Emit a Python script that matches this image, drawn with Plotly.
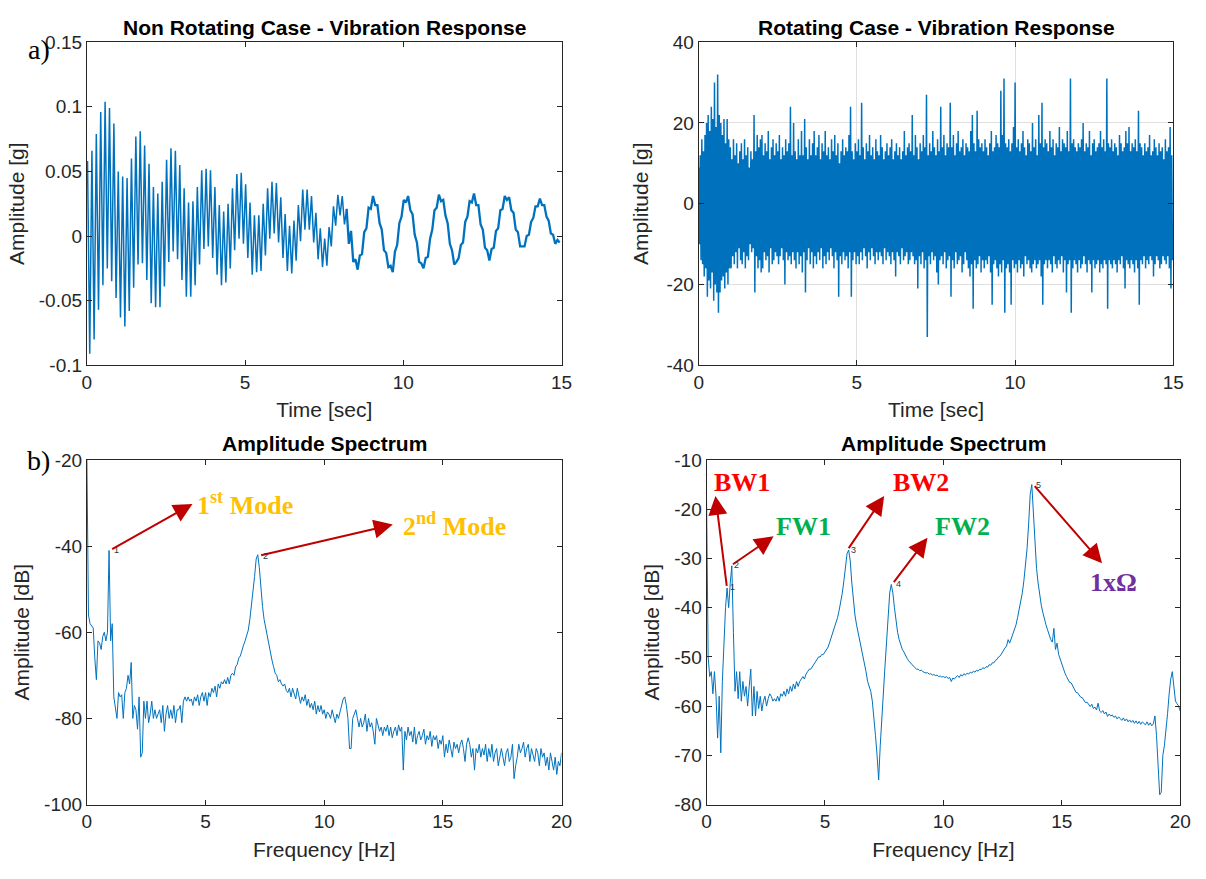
import numpy as np
import plotly.graph_objects as go

# ---------------- DATA ----------------
# Non rotating case: successive extremes of the oscillation [g]
tl_t0 = 0.02
tl_step = 0.0694
tl_vals = [
    0.058, -0.091, 0.066, -0.080, 0.079, -0.057, 0.096, -0.038, 0.104, -0.025, 0.099, -0.035, 0.087, -0.048, 0.050, -0.063,
    0.046, -0.070, 0.045, -0.058, 0.060, -0.040, 0.077, -0.022, 0.081, -0.021, 0.070, -0.034, 0.056, -0.052, 0.038,
    -0.055, 0.033, -0.055, 0.042, -0.039, 0.059, -0.020, 0.068, -0.012, 0.066, -0.018, 0.055, -0.034, 0.037, -0.047,
    0.026, -0.047, 0.027, -0.038, 0.038, -0.022, 0.051, -0.010, 0.052, -0.008, 0.051, -0.017, 0.038, -0.030, 0.024,
    -0.038, 0.019, -0.036, 0.025, -0.025, 0.037, -0.011, 0.048, -0.002, 0.049, -0.006, 0.040, -0.017, 0.026, -0.030,
    0.016, -0.028, 0.016, -0.027, 0.025, -0.015, 0.037, -0.002, 0.042, 0.002, 0.041, -0.005, 0.030, -0.017, 0.017, -0.027,
    0.008, -0.029, 0.012, -0.019, 0.024, -0.004, 0.036, 0.005, 0.036, 0.005, 0.031, -0.005, 0.018, -0.018, 0.006,
    -0.024, -0.002, -0.023, 0.007, -0.008, 0.023, 0.008, 0.032, 0.016, 0.031, 0.009, 0.021, -0.006, 0.004, -0.020,
    -0.018, -0.026, -0.015, -0.014, 0.003, 0.006, 0.022, 0.021, 0.031, 0.024, 0.024, 0.010, 0.005, -0.011, -0.013, -0.024,
    -0.023, -0.028, -0.012, -0.007, 0.010, 0.015, 0.028, 0.026, 0.031, 0.020, 0.017, 0.001, -0.005, -0.020, -0.021,
    -0.025, -0.017, -0.016, -0.002, 0.005, 0.020, 0.022, 0.032, 0.027, 0.028, 0.016, 0.010, -0.006, -0.011, -0.022, -0.020,
    -0.017, -0.007, -0.005, 0.011, 0.015, 0.027, 0.026, 0.033, 0.024, 0.024, 0.009, 0.005, -0.009, -0.011, -0.019,
    -0.010, -0.009, 0.004, 0.006, 0.020, 0.021, 0.031, 0.028, 0.030, 0.020, 0.018, 0.005, 0.003, -0.008, -0.008,
    -0.008, 0.000, 0.001, 0.011, 0.014, 0.023, 0.023, 0.029, 0.024, 0.024, 0.015, 0.012, 0.002, 0.001, -0.006, -0.003, -0.005,
]
tl_split = 118  # from here on the trace is a thick, slowly oscillating band

# Rotating case: per-bin maximum and (magnitude of) minimum [g], bins of 0.05 s
tr_bin = 0.05
tr_upper = [
    9, 12, 16, 13, 17, 20, 22, 18, 24, 21, 30, 19, 32, 22, 20, 17, 21, 15, 21, 16,
    14, 11, 16, 12, 15, 10, 13, 15, 11, 16, 12, 14, 9, 13, 11, 22, 13, 17, 14, 16,
    17, 12, 15, 13, 18, 11, 14, 16, 12, 15, 13, 17, 11, 14, 12, 16, 13, 15, 24, 12,
    20, 13, 11, 16, 12, 18, 12, 21, 14, 11, 16, 12, 15, 18, 12, 14, 17, 11, 15, 13,
    18, 12, 14, 11, 16, 13, 17, 12, 15, 10, 13, 16, 12, 14, 13, 17, 24, 13, 11, 15,
    13, 16, 12, 25, 14, 11, 15, 13, 17, 12, 14, 11, 16, 13, 12, 17, 14, 11, 13, 15,
    12, 14, 16, 11, 13, 15, 12, 14, 11, 13, 18, 12, 14, 15, 13, 22, 12, 17, 14, 11,
    15, 13, 17, 14, 27, 12, 15, 13, 18, 14, 12, 16, 13, 24, 14, 17, 12, 15, 14, 25,
    14, 17, 12, 15, 18, 13, 14, 16, 12, 15, 14, 13, 18, 22, 15, 13, 23, 16, 14, 15,
    13, 16, 14, 12, 15, 18, 13, 14, 17, 15, 14, 28, 17, 31, 15, 14, 16, 13, 15, 19,
    30, 14, 16, 13, 15, 18, 14, 12, 16, 15, 13, 20, 14, 16, 12, 22, 15, 25, 14, 16,
    15, 13, 18, 14, 16, 12, 15, 14, 19, 13, 16, 15, 14, 18, 13, 31, 15, 16, 14, 13,
    15, 14, 16, 20, 13, 15, 14, 18, 12, 15, 16, 13, 14, 15, 18, 14, 16, 13, 31, 15,
    14, 16, 13, 15, 14, 12, 17, 15, 13, 14, 18, 15, 19, 13, 15, 14, 16, 13, 23, 15,
    14, 12, 15, 13, 14, 17, 12, 13, 16, 14, 12, 15, 13, 14, 11, 16, 13, 14, 19, 12,
]
tr_lower = [
    10, 14, 15, 18, 16, 23, 19, 21, 17, 24, 20, 22, 27, 22, 19, 18, 21, 17, 20, 16,
    16, 13, 15, 12, 16, 11, 14, 15, 12, 16, 13, 14, 10, 12, 11, 22, 13, 16, 14, 17,
    16, 12, 14, 13, 17, 11, 15, 14, 12, 13, 15, 13, 11, 14, 20, 12, 14, 13, 15, 12,
    14, 16, 12, 15, 13, 17, 12, 22, 14, 11, 15, 12, 16, 13, 15, 12, 14, 11, 16, 13,
    15, 12, 14, 11, 13, 16, 12, 14, 23, 13, 15, 12, 14, 13, 16, 12, 23, 14, 12, 15,
    13, 15, 12, 14, 11, 13, 16, 12, 14, 11, 13, 15, 12, 14, 12, 13, 15, 11, 14, 12,
    13, 15, 12, 14, 18, 12, 13, 15, 11, 14, 13, 12, 15, 14, 12, 13, 15, 14, 21, 13,
    15, 12, 16, 14, 33, 13, 15, 12, 14, 13, 17, 20, 14, 13, 15, 12, 16, 14, 13, 23,
    14, 16, 12, 15, 14, 13, 17, 15, 12, 14, 16, 18, 15, 26, 14, 16, 15, 13, 17, 14,
    16, 14, 15, 13, 17, 25, 15, 14, 16, 18, 15, 17, 14, 27, 16, 15, 17, 25, 14, 16,
    15, 17, 14, 16, 15, 18, 13, 15, 14, 16, 17, 15, 14, 16, 15, 14, 18, 25, 15, 14,
    16, 14, 15, 17, 13, 15, 16, 14, 15, 13, 17, 14, 22, 15, 14, 27, 16, 14, 15, 17,
    14, 16, 15, 13, 15, 17, 14, 15, 22, 14, 16, 15, 14, 17, 15, 16, 14, 15, 26, 14,
    15, 16, 14, 15, 17, 14, 15, 13, 16, 21, 14, 15, 16, 14, 15, 17, 14, 16, 25, 14,
    15, 13, 16, 14, 15, 13, 14, 18, 15, 13, 14, 16, 15, 13, 14, 15, 13, 16, 21, 14,
]

# Spectra [dB], frequency resolution 1/15 Hz from 0 to 20 Hz
spec_df = 1.0 / 15.0
bl_db = [
    -20, -56, -58, -58.5, -59, -66, -71, -62, -62.5, -64, -61, -60, -62, -60, -41,
    -62, -58, -75, -78, -80, -74, -75, -74.5, -80, -74, -73, -70, -72, -67, -80,
    -77, -78, -82.5, -75, -89, -88, -76, -80, -76, -81, -79, -76, -80, -78, -80,
    -79, -78, -81, -77, -83, -79, -77, -80, -78, -80, -77, -81, -78, -78, -77,
    -81, -76, -75, -76, -75, -76, -75.5, -77, -75, -76, -74.5, -77, -75, -74, -76,
    -74, -77, -74, -75, -73, -74, -72.5, -75, -72, -73, -71.5, -72, -71, -72, -70.5,
    -72, -70, -69.5, -70, -68, -67.5, -66, -65.5, -64, -63, -62, -61, -59.5, -57, -54,
    -51, -47, -43, -42, -45, -50, -54, -57, -59, -61, -63, -65, -66.5, -68, -69.5,
    -70, -71.5, -71, -72, -72.5, -72, -73.5, -74, -73, -75, -73, -74, -75.5, -73, -75,
    -76.5, -75, -76, -74.5, -77, -75.5, -77.5, -76.5, -78, -76, -79, -77, -78.5, -77, -79,
    -78, -80, -78.5, -79, -80, -78, -79.5, -81, -79, -80, -78.5, -77, -75.5, -75, -77,
    -80, -87, -87, -80, -79, -78, -80, -82, -80, -82, -81, -79, -83, -80, -82,
    -81, -83, -86, -80, -81.5, -83, -82, -84, -82, -83, -81.5, -84, -82, -84.5, -83,
    -82, -84, -81.5, -83, -82, -92, -83, -85, -82, -84, -83, -85.5, -82, -86, -84,
    -83, -85, -84, -82.5, -86, -84, -85, -83, -86.5, -84, -85, -84, -87, -85, -86,
    -84, -89, -86, -88, -85, -87, -89, -85.5, -87, -86, -88, -86, -85, -87, -90,
    -86, -84.5, -86, -89, -87, -92, -87, -88, -86, -89, -87, -88.5, -86, -90, -87,
    -89, -86, -90, -88, -87, -91, -89, -87, -89, -91, -88, -87, -90, -89, -86,
    -94, -91, -89, -86, -88, -87, -85.5, -89, -87, -86, -90, -87, -88.5, -90, -87,
    -88, -91, -87, -89, -88, -91, -89, -92, -88, -90, -92, -89, -93, -90, -91,
    -88,
]
br_db = [
    -18, -50, -54, -53, -57.5, -53, -58, -66.5, -58, -69.5, -55, -46, -40, -36, -40,
    -35, -31.5, -45, -57, -53, -58.5, -53, -59, -55, -58, -56, -60, -56, -52.5, -62,
    -56, -62, -57, -60.5, -58, -61, -59, -58, -60, -58.5, -57.5, -58, -59, -58.5, -59,
    -58, -59, -57.5, -58, -57, -58, -56.5, -57.5, -56, -57, -55.5, -56.5, -55, -56, -55,
    -54.5, -54, -54.5, -53.5, -53, -52.5, -52.5, -52, -51.5, -51, -50.5, -50, -50, -49.5, -49.5,
    -49, -48.5, -48, -47, -46, -45, -44, -43, -42, -40.5, -39, -37, -34.5, -31.5, -29,
    -28.3, -30.5, -35, -39, -41.5, -43.5, -45, -46.5, -48, -49.5, -51, -53, -55, -56, -57,
    -59, -62, -66, -70, -75, -68, -62, -57, -52, -47, -42, -37, -35.3, -37, -40,
    -43, -45, -46.5, -47.5, -48.5, -49, -49.8, -50.3, -50.8, -51.2, -51.6, -52, -52.2, -52.5, -52.5,
    -52.8, -52.7, -53, -53.1, -53.3, -53.2, -53.5, -53.4, -53.7, -53.6, -53.8, -53.7, -54, -53.9, -54.1,
    -54, -54.2, -54, -54.4, -54.2, -55, -54.3, -54.5, -54.1, -53.8, -54.2, -53.6, -53.9, -53.4, -53.7,
    -53.3, -53.5, -53.1, -53.3, -52.9, -53.1, -52.7, -52.9, -52.5, -52.6, -52.2, -52.4, -52, -52.1, -51.6,
    -51.7, -51.2, -51.2, -50.7, -50.5, -50, -49.8, -49.2, -48.9, -48.2, -47.8, -46.5, -47.2, -46.2, -45.5,
    -44.5, -43.5, -42, -40.5, -39, -37, -34.5, -31.5, -28, -23, -17, -15, -21, -28, -32,
    -35, -37.5, -39.5, -41, -42.5, -43.5, -44.5, -45.5, -46.5, -47, -44.2, -48.5, -47.2, -49.5, -50.5,
    -51.5, -52.5, -53.3, -54, -54.8, -55.2, -55.3, -55.9, -56.6, -57.2, -57.3, -57.9, -58.2, -58.3, -58.9,
    -59.3, -59.2, -59.8, -60.1, -59.6, -60.5, -60.2, -60.8, -59.4, -61, -61.3, -60.9, -61.6, -61.2, -62.1,
    -61.6, -62, -61.8, -62.3, -62, -62.6, -62.2, -62.5, -62.9, -62.4, -63, -62.6, -63.2, -62.8, -63.3,
    -62.9, -63.5, -63, -63.6, -63.1, -63.7, -63.2, -63.5, -63.8, -63.2, -63.9, -63.4, -64, -63.6, -62,
    -66, -71, -78, -77.5, -70, -68, -65, -61.5, -57.5, -54.5, -53, -55.5, -59, -59.5, -60,
    -61,
]

# Annotated peaks (frequency [Hz], level [dB])
bl_peaks_f = [1.0, 7.28]
bl_peaks_db = [-40.9, -42.2]
br_peaks_f = [0.86, 1.05, 5.96, 7.86, 13.8]
br_peaks_db = [-35.9, -31.4, -28.2, -35.1, -15.0]

# ---------------- FIGURE ----------------
W, H = 1206, 879
BLUE = "#0072BD"
AX = "#262626"
SANS = "Liberation Sans, Arial, Helvetica, sans-serif"
SERIF = "Liberation Serif, Times New Roman, serif"


def px(x):
    return x / W


def py(y):
    return 1 - y / H


tl_t = tl_t0 + np.arange(len(tl_vals)) * tl_step
tl_v = np.array(tl_vals)
n_tr = len(tr_upper)
tr_t = np.empty(2 * n_tr)
tr_y = np.empty(2 * n_tr)
tr_t[0::2] = np.arange(n_tr) * tr_bin
tr_t[1::2] = np.arange(n_tr) * tr_bin + tr_bin / 2
tr_y[0::2] = np.array(tr_upper, float)
tr_y[1::2] = -np.array(tr_lower, float)
bl_f = np.arange(len(bl_db)) * spec_df
br_f = np.arange(len(br_db)) * spec_df

fig = go.Figure()
fig.add_trace(go.Scatter(x=tl_t[:tl_split + 1], y=tl_v[:tl_split + 1], mode="lines",
                         line=dict(color=BLUE, width=1.5), xaxis="x", yaxis="y", showlegend=False))
fig.add_trace(go.Scatter(x=tl_t[tl_split:], y=tl_v[tl_split:], mode="lines",
                         line=dict(color=BLUE, width=2.3), xaxis="x", yaxis="y", showlegend=False))
fig.add_trace(go.Scatter(x=tr_t, y=tr_y, mode="lines", line=dict(color=BLUE, width=1.5),
                         xaxis="x2", yaxis="y2", showlegend=False))
fig.add_trace(go.Scatter(x=bl_f, y=bl_db, mode="lines", line=dict(color=BLUE, width=1),
                         xaxis="x3", yaxis="y3", showlegend=False))
fig.add_trace(go.Scatter(x=br_f, y=br_db, mode="lines", line=dict(color=BLUE, width=1),
                         xaxis="x4", yaxis="y4", showlegend=False))


def axis(domain, rng, tickvals, ticktext, title, anchor, grid=False, standoff=8):
    return dict(domain=domain, range=rng, tickvals=tickvals, ticktext=ticktext,
                showline=True, mirror="ticks", linecolor=AX, linewidth=1,
                ticks="inside", ticklen=5, tickcolor=AX, tickwidth=1,
                tickfont=dict(family=SANS, size=19, color=AX),
                title=dict(text=title, font=dict(family=SANS, size=21, color=AX), standoff=standoff),
                showgrid=grid, gridcolor="#DFDFDF", gridwidth=1, zeroline=False,
                anchor=anchor, fixedrange=True)


top_y = [py(364), py(33)]
bot_y = [py(814), py(461)]
xl = [px(83), px(564)]
xr_top = [px(703), px(1184)]
xr_bot = [px(711), px(1191)]

fig.update_layout(
    width=W, height=H, margin=dict(l=0, r=0, t=0, b=0),
    paper_bgcolor="white", plot_bgcolor="white", showlegend=False,
    xaxis=axis(xl, [0, 15], [0, 5, 10, 15], ["0", "5", "10", "15"], "Time [sec]", "y", standoff=10),
    yaxis=axis(top_y, [-0.1, 0.15], [-0.1, -0.05, 0, 0.05, 0.1, 0.15],
               ["-0.1", "-0.05", "0", "0.05", "0.1", "0.15"], "Amplitude [g]", "x"),
    xaxis2=axis(xr_top, [0, 15], [0, 5, 10, 15], ["0", "5", "10", "15"], "Time [sec]", "y2",
                grid=True, standoff=10),
    yaxis2=axis(top_y, [-40, 40], [-40, -20, 0, 20, 40], ["-40", "-20", "0", "20", "40"],
                "Amplitude [g]", "x2", grid=True, standoff=12),
    xaxis3=axis(xl, [0, 20], [0, 5, 10, 15, 20], ["0", "5", "10", "15", "20"], "Frequency [Hz]", "y3",
                standoff=10),
    yaxis3=axis(bot_y, [-100, -20], [-100, -80, -60, -40, -20], ["-100", "-80", "-60", "-40", "-20"],
                "Amplitude [dB]", "x3"),
    xaxis4=axis(xr_bot, [0, 20], [0, 5, 10, 15, 20], ["0", "5", "10", "15", "20"], "Frequency [Hz]", "y4",
                standoff=10),
    yaxis4=axis(bot_y, [-80, -10], [-80, -70, -60, -50, -40, -30, -20, -10],
                ["-80", "-70", "-60", "-50", "-40", "-30", "-20", "-10"], "Amplitude [dB]", "x4"),
)

ann = []
for txt, cx, cy in [("Non Rotating Case - Vibration Response", 323.5, 18),
                    ("Rotating Case - Vibration Response", 944, 18),
                    ("Amplitude Spectrum", 323.5, 444),
                    ("Amplitude Spectrum", 951, 444)]:
    ann.append(dict(text="<b>" + txt + "</b>", x=px(cx), y=py(cy), xref="paper", yref="paper",
                    xanchor="center", yanchor="middle", showarrow=False,
                    font=dict(family=SANS, size=21, color="black")))
for txt, cx, cy in [("a)", 34, 40), ("b)", 34, 462)]:
    ann.append(dict(text=txt, x=px(cx), y=py(cy), xref="paper", yref="paper",
                    xanchor="center", yanchor="middle", showarrow=False,
                    font=dict(family=SERIF, size=28, color="black")))

ARROW = "#C00000"


def arrow(xr, yr, tail, tip):
    return dict(x=tip[0], y=tip[1], ax=tail[0], ay=tail[1], xref=xr, yref=yr, axref=xr, ayref=yr,
                text="", showarrow=True, arrowhead=2, arrowsize=1.9, arrowwidth=2, arrowcolor=ARROW)


def label(xr, yr, x, y, txt, color, xanchor="center"):
    return dict(x=x, y=y, xref=xr, yref=yr, text="<b>" + txt + "</b>", showarrow=False,
                xanchor=xanchor, yanchor="middle", font=dict(family=SERIF, size=26, color=color))


def tip_num(xr, yr, x, y, n):
    return dict(x=x, y=y, xref=xr, yref=yr, text=str(n), showarrow=False, xanchor="left",
                yanchor="middle", xshift=1, font=dict(family=SANS, size=9, color="#333333"))


ann.append(arrow("x3", "y3", (bl_peaks_f[0], bl_peaks_db[0]), (4.45, -30.2)))
ann.append(arrow("x3", "y3", (bl_peaks_f[1], bl_peaks_db[1]), (12.89, -35.0)))
ann.append(label("x3", "y3", 4.57, -30.0, "1<sup>st</sup> Mode", "#FFC000", "left"))
ann.append(label("x3", "y3", 13.22, -35.0, "2<sup>nd</sup> Mode", "#FFC000", "left"))
for i, (f, d) in enumerate(zip(bl_peaks_f, bl_peaks_db)):
    ann.append(tip_num("x3", "y3", f, d, i + 1))

ann.append(arrow("x4", "y4", (br_peaks_f[0], br_peaks_db[0]), (0.375, -17.3)))
ann.append(arrow("x4", "y4", (br_peaks_f[1], br_peaks_db[1]), (2.83, -25.5)))
ann.append(arrow("x4", "y4", (br_peaks_f[2], br_peaks_db[2]), (7.5, -17.3)))
ann.append(arrow("x4", "y4", (br_peaks_f[3], br_peaks_db[3]), (9.33, -25.8)))
ann.append(arrow("x4", "y4", (br_peaks_f[4], br_peaks_db[4]), (16.7, -31.0)))
ann.append(label("x4", "y4", 1.48, -14.6, "BW1", "#FF0000"))
ann.append(label("x4", "y4", 4.11, -23.6, "FW1", "#00B050"))
ann.append(label("x4", "y4", 9.04, -14.6, "BW2", "#FF0000"))
ann.append(label("x4", "y4", 10.79, -23.6, "FW2", "#00B050"))
ann.append(label("x4", "y4", 17.19, -34.8, "1xΩ", "#7030A0"))
for i, (f, d) in enumerate(zip(br_peaks_f, br_peaks_db)):
    ann.append(tip_num("x4", "y4", f, d, i + 1))

fig.update_layout(annotations=ann)
fig.write_html("out.html")
